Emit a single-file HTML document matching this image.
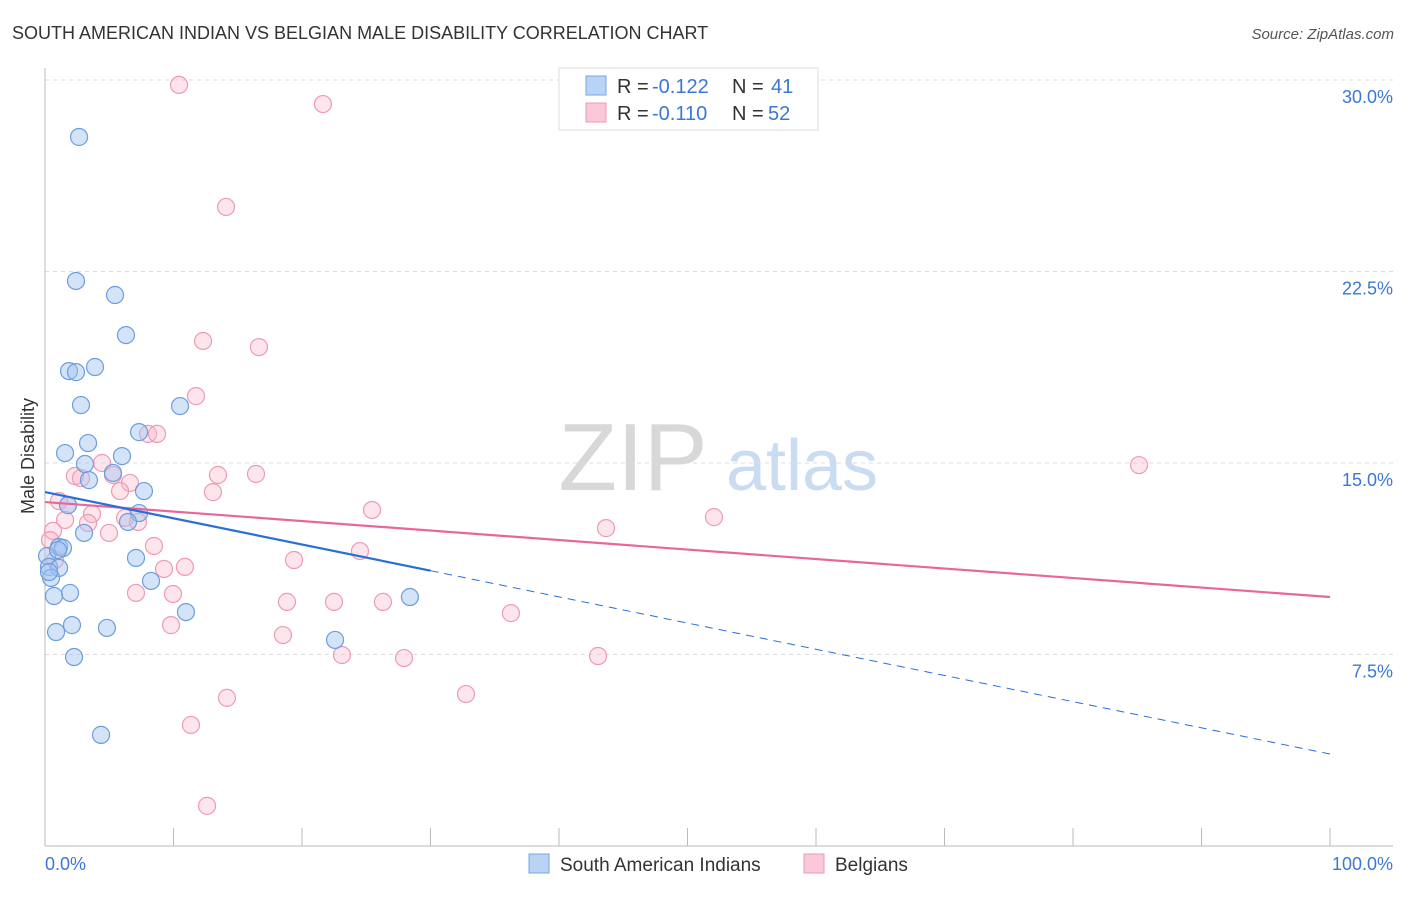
<!DOCTYPE html>
<html><head><meta charset="utf-8"><style>
body{margin:0;background:#fff;font-family:"Liberation Sans",sans-serif;}
svg text{font-family:"Liberation Sans",sans-serif;}
</style></head><body>
<svg width="1406" height="892" viewBox="0 0 1406 892" xmlns="http://www.w3.org/2000/svg">
<text x="12" y="39" font-size="18" fill="#333">SOUTH AMERICAN INDIAN VS BELGIAN MALE DISABILITY CORRELATION CHART</text>
<text x="1394" y="39" font-size="15" fill="#555" text-anchor="end" font-style="italic">Source: ZipAtlas.com</text>
<g>
<text x="633" y="490" font-size="96" fill="#d8d8d8" text-anchor="middle" font-family="Liberation Serif, serif">ZIP</text>
<text x="802" y="490" font-size="72" fill="#c9dcf2" text-anchor="middle">atlas</text>
</g>
<g id="grid"></g>
<g id="axes"></g>
<g id="marks"></g>
<g>
<rect x="559" y="68" width="259" height="62" fill="#fff" stroke="#ddd"/>
<rect x="586" y="76" width="20" height="19" fill="#b8d3f5" stroke="#7aa6e0"/>
<rect x="586" y="103" width="20" height="19" fill="#fac8d6" stroke="#ee9ab5"/>
<text x="617" y="93" font-size="20" fill="#333">R =</text>
<text x="652" y="93" font-size="20" fill="#3a78d4">-0.122</text>
<text x="732" y="93" font-size="20" fill="#333">N =</text>
<text x="771" y="93" font-size="20" fill="#3a78d4">41</text>
<text x="617" y="120" font-size="20" fill="#333">R =</text>
<text x="652" y="120" font-size="20" fill="#3a78d4">-0.110</text>
<text x="732" y="120" font-size="20" fill="#333">N =</text>
<text x="768" y="120" font-size="20" fill="#3a78d4">52</text>
</g>
<g>
<rect x="529" y="854" width="20" height="19" fill="#b8d3f5" stroke="#7aa6e0"/>
<text x="560" y="871" font-size="19" fill="#333">South American Indians</text>
<rect x="804" y="854" width="20" height="19" fill="#fac8d6" stroke="#ee9ab5"/>
<text x="835" y="871" font-size="19" fill="#333">Belgians</text>
</g>
<text transform="translate(34,456) rotate(-90)" font-size="18" fill="#333" text-anchor="middle">Male Disability</text>
</svg>
<script>
const yTicks=[7.5,15,22.5,30];
const yTickLabels=["7.5%","15.0%","22.5%","30.0%"];
const xTickLabels=["0.0%","100.0%"];
const blueX=[2.65,2.41,5.45,6.30,1.87,2.41,3.89,2.80,10.51,7.32,3.35,1.56,5.99,3.11,5.29,3.42,7.70,1.79,7.32,6.46,3.04,1.09,1.40,0.16,7.08,0.31,1.09,0.47,8.25,1.95,0.70,28.40,10.97,0.86,2.10,4.82,22.57,2.26,4.36,0.31,1.01];
const blueY=[27.77,22.13,21.58,20.01,18.60,18.56,18.76,17.27,17.23,16.21,15.78,15.39,15.27,14.96,14.61,14.33,13.90,13.35,13.04,12.69,12.26,11.71,11.67,11.36,11.28,10.93,10.89,10.50,10.38,9.91,9.79,9.75,9.16,8.38,8.65,8.54,8.07,7.40,4.35,10.73,11.59];
const pinkX=[10.43,21.63,14.09,12.30,16.65,11.75,8.02,8.72,4.44,13.46,16.42,2.33,2.80,5.29,6.61,5.84,13.07,1.09,1.79,25.45,3.66,1.56,6.23,7.24,3.35,52.06,43.66,0.62,4.98,8.48,24.51,19.38,9.26,10.89,7.08,9.96,18.83,22.49,26.30,36.26,9.81,18.52,23.11,27.94,43.04,32.76,14.16,11.36,12.61,85.14,0.39,0.78];
const pinkY=[29.81,29.06,25.03,19.78,19.54,17.62,16.14,16.14,15.00,14.53,14.57,14.49,14.41,14.53,14.22,13.90,13.86,13.51,13.35,13.16,13.00,12.77,12.85,12.69,12.65,12.88,12.45,12.34,12.26,11.75,11.55,11.20,10.85,10.93,9.91,9.87,9.56,9.56,9.56,9.12,8.65,8.26,7.48,7.36,7.44,5.95,5.80,4.74,1.57,14.92,11.98,11.20];
const blueTrend=[13.86,3.60];
const pinkTrend=[13.47,9.75];
const blueSolidEnd=30;
const NS="http://www.w3.org/2000/svg";
const X=v=>45+v*12.85, Y=v=>463-(v-15)*25.53;
function mk(tag,attrs,parent){const e=document.createElementNS(NS,tag);for(const k in attrs)e.setAttribute(k,attrs[k]);parent.appendChild(e);return e;}
const grid=document.getElementById('grid'),axes=document.getElementById('axes'),marks=document.getElementById('marks');
yTicks.forEach((t,i)=>{
 const l=mk('line',{x1:45,x2:1393,y1:Y(t),y2:Y(t),stroke:'#ddd','stroke-dasharray':'4,4'},grid);
 
 
 const tx=mk('text',{x:1393,y:Y(t)+23,'font-size':18,fill:'#3a78d4','text-anchor':'end'},axes);
 tx.textContent=yTickLabels[i];
 
 
});
const ax=mk('line',{x1:45,x2:1393,y1:846,y2:846,stroke:'#bbb'},axes);


const ay=mk('line',{x1:45,x2:45,y1:68,y2:846,stroke:'#bbb'},axes);


for(let i=0;i<=10;i++){
 const t=mk('line',{x1:X(i*10),x2:X(i*10),y1:828,y2:846,stroke:'#bbb'},axes);
 
 
}
[[0,'start',45],[100,'end',1393]].forEach((d,i)=>{
 const t=mk('text',{x:d[2],y:870,'font-size':18,fill:'#3a78d4','text-anchor':d[1]},axes);
 t.textContent=xTickLabels[i];
 
 
});
function pts(xs,ys,fill,stroke,name){
 xs.forEach((x,i)=>{
  const c=mk('circle',{cx:X(x),cy:Y(ys[i]),r:8.5,fill:fill,stroke:stroke,'stroke-width':1.2},marks);
  
  
 });
}
pts(pinkX,pinkY,'rgba(248,180,200,0.35)','#ee9ab5','belgian-point');
pts(blueX,blueY,'rgba(160,196,240,0.45)','#6c9de0','south-american-indian-point');
const tb=(t,v)=>t[0]+(t[1]-t[0])*v/100;
const l1=mk('line',{x1:X(0),y1:Y(tb(pinkTrend,0)),x2:X(100),y2:Y(tb(pinkTrend,100)),stroke:'#e8679a','stroke-width':2.2},marks);


const l2=mk('line',{x1:X(0),y1:Y(tb(blueTrend,0)),x2:X(blueSolidEnd),y2:Y(tb(blueTrend,blueSolidEnd)),stroke:'#2a6fd6','stroke-width':2.2},marks);


const l3=mk('line',{x1:X(blueSolidEnd),y1:Y(tb(blueTrend,blueSolidEnd)),x2:X(100),y2:Y(tb(blueTrend,100)),stroke:'#2a6fd6','stroke-width':1,'stroke-dasharray':'8,6'},marks);


</script>
</body></html>
